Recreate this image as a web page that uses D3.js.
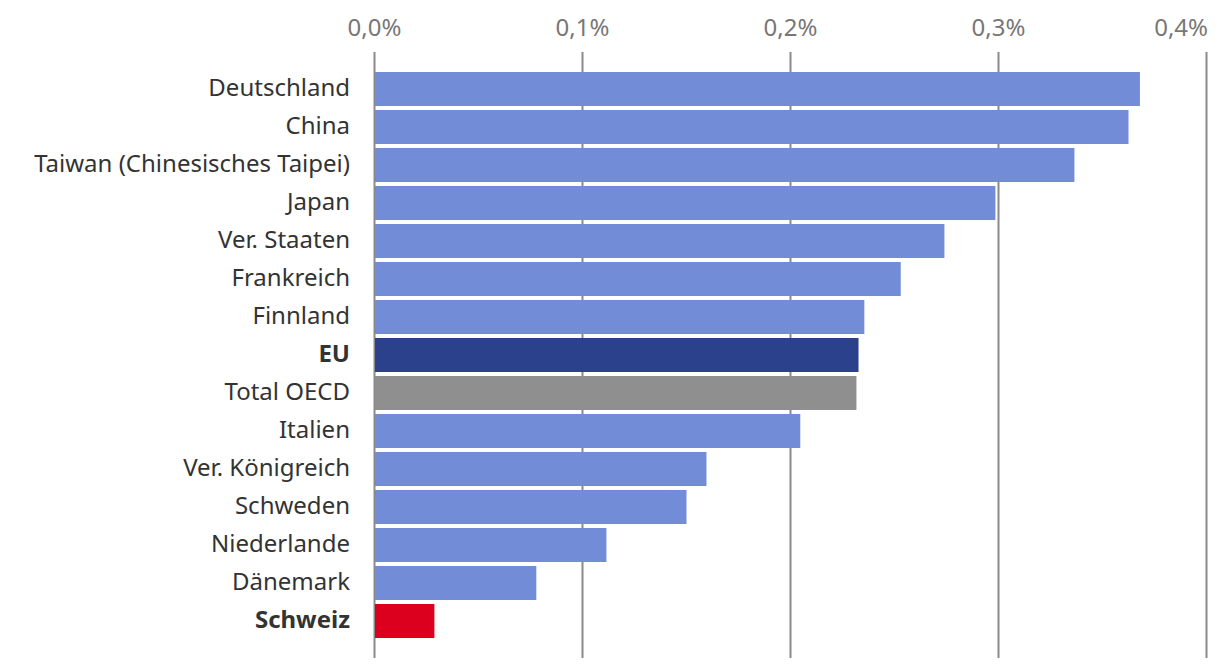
<!DOCTYPE html>
<html><head><meta charset="utf-8">
<script src="https://cdn.jsdelivr.net/npm/d3@7"></script>
<style>body{margin:0;background:#fff;} text{font-family:"Noto Sans","Open Sans",sans-serif;}</style>
</head><body>
<svg id="c" width="1220" height="668"></svg>
<script>
const categories = ["Deutschland","China","Taiwan (Chinesisches Taipei)","Japan","Ver. Staaten","Frankreich","Finnland","EU","Total OECD","Italien","Ver. Königreich","Schweden","Niederlande","Dänemark","Schweiz"];
const values = [0.368,0.3625,0.3365,0.2985,0.274,0.253,0.2355,0.2327,0.2317,0.2047,0.1596,0.15,0.1115,0.0778,0.0288];
const tickValues = [0,0.1,0.2,0.3,0.4];
const boldCats = ["EU","Schweiz"];
const colorFor = c => c==="EU" ? "#2b418c" : c==="Total OECD" ? "#8f8f8f" : c==="Schweiz" ? "#dc001e" : "#728cd8";

const svg = d3.select("#c");
const x = d3.scaleLinear().domain([0,0.4]).range([374.5,1206.5]);
const y = d3.scaleBand().domain(categories).range([70,640]).paddingInner(4/38).paddingOuter(2/38);

svg.append("g").selectAll("line").data(tickValues).join("line")
  .attr("x1",d=>x(d)).attr("x2",d=>x(d)).attr("y1",52).attr("y2",658)
  .attr("stroke","#8a8a8a").attr("stroke-width",2);

svg.append("g").selectAll("text").data(tickValues).join("text")
  .attr("x",(d,i)=>i===tickValues.length-1 ? 1208 : x(d)).attr("y",36)
  .attr("text-anchor",(d,i)=>i===tickValues.length-1 ? "end" : "middle")
  .attr("fill","#777").attr("font-size",24)
  .text(d=>d3.format(".1f")(d*1).replace(".",",")+"%");

svg.append("g").selectAll("rect").data(categories).join("rect")
  .attr("x",x(0)+0.5).attr("y",d=>y(d)).attr("height",y.bandwidth())
  .attr("width",(d,i)=>x(values[i])-x(0)-0.5).attr("fill",colorFor);

svg.append("g").selectAll("text").data(categories).join("text")
  .attr("x",350).attr("y",d=>y(d)+y.bandwidth()/2).attr("dy","0.3em")
  .attr("text-anchor","end").attr("fill","#333").attr("font-size",24)
  .attr("font-weight",d=>boldCats.includes(d)?"bold":"normal")
  .text(d=>d);
</script>
</body></html>
